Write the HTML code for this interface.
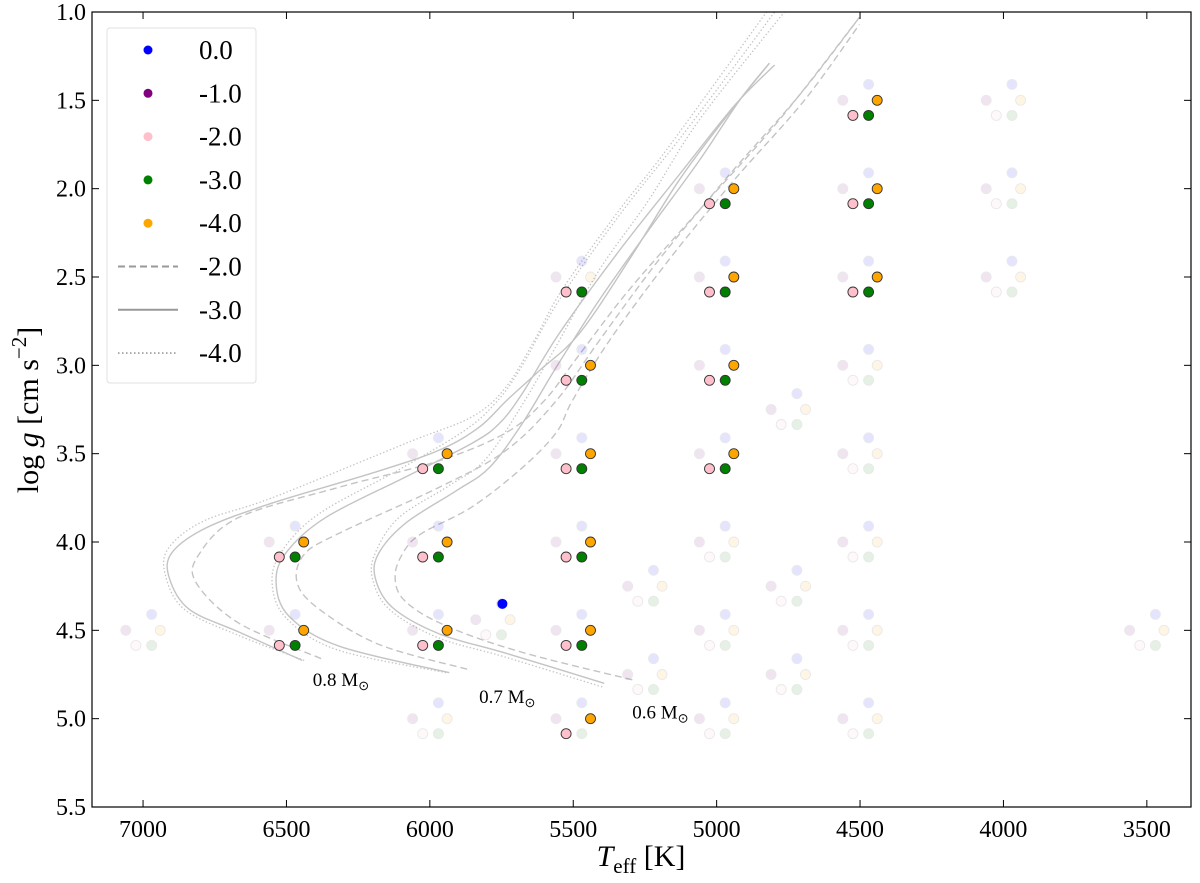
<!DOCTYPE html>
<html><head><meta charset="utf-8"><style>
html,body{margin:0;padding:0;background:#fff;}
svg{display:block;font-family:"Liberation Serif",serif;}
</style></head><body>
<svg id="chart" width="1200" height="883" viewBox="0 0 1200 883">
<g id="tracks"></g>
<g id="points"></g>
<g id="axes"></g>
<g id="legend"></g>
</svg>
<script>
const xTicks=[7000,6500,6000,5500,5000,4500,4000,3500];
const yTicks=[1.0,1.5,2.0,2.5,3.0,3.5,4.0,4.5,5.0,5.5];
const gridTeff=[7000,6500,6500,6000,6000,6000,6000,5780,5500,5500,5500,5500,5500,5500,5250,5250,5000,5000,5000,5000,5000,5000,5000,4750,4750,4750,4500,4500,4500,4500,4500,4500,4500,4500,4000,4000,4000,3500];
const gridLogg=[4.5,4.0,4.5,3.5,4.0,4.5,5.0,4.44,2.5,3.0,3.5,4.0,4.5,5.0,4.25,4.75,2.0,2.5,3.0,3.5,4.0,4.5,5.0,3.25,4.25,4.75,1.5,2.0,2.5,3.0,3.5,4.0,4.5,5.0,1.5,2.0,2.5,4.5];
const gridOpaque=["","pgo","pgo","pgo","pgo","pgo","","","pg","pgo","pgo","pgo","pgo","po","","","pgo","pgo","pgo","pgo","","","","","","","pgo","pgo","pgo","","","","","","","","",""];
const starTeff=[5747];
const starLogg=[4.35];
const t08s=[[6445,4.67],[6665,4.51],[6840,4.38],[6909,4.20],[6899,4.06],[6780,3.92],[6550,3.78],[6201,3.61],[5967,3.48],[5828,3.35],[5733,3.20],[5618,3.03],[5479,2.82],[5304,2.40],[5130,1.95],[4955,1.57],[4816,1.29]];
const t08d=[[6438,4.67],[6665,4.53],[6857,4.38],[6923,4.18],[6909,4.03],[6787,3.88],[6550,3.75],[6082,3.44],[5852,3.29],[5733,3.12],[5636,2.86],[5538,2.57],[5339,2.12],[5175,1.78],[4826,1.0]];
const t08a=[[6379,4.66],[6665,4.46],[6815,4.23],[6805,4.07],[6665,3.86],[6316,3.69],[5967,3.54],[5733,3.38],[5601,3.20],[5479,2.94],[5304,2.57],[5060,2.12],[4781,1.61],[4502,1.03]];
const t07s=[[5932,4.74],[6316,4.59],[6491,4.42],[6536,4.23],[6501,4.06],[6362,3.86],[6082,3.63],[5852,3.44],[5758,3.33],[5678,3.16],[5549,2.82],[5339,2.35],[5130,1.92],[4938,1.53],[4798,1.30]];
const t07d=[[5943,4.74],[6323,4.61],[6501,4.43],[6550,4.23],[6515,4.05],[6386,3.84],[6107,3.59],[5880,3.37],[5775,3.22],[5688,3.03],[5549,2.63],[5339,2.15],[5130,1.72],[4921,1.27],[4798,1.0]];
const t07a=[[5870,4.72],[6177,4.58],[6386,4.38],[6463,4.23],[6438,4.07],[6316,3.95],[5967,3.69],[5733,3.48],[5559,3.20],[5409,2.86],[5200,2.40],[4955,1.92],[4711,1.47],[4502,1.03]];
const t06s=[[5392,4.80],[5734,4.63],[5967,4.52],[6131,4.37],[6191,4.20],[6177,4.06],[6082,3.89],[5908,3.71],[5793,3.58],[5678,3.33],[5559,3.01],[5409,2.63],[5235,2.23],[5060,1.84],[4920,1.50],[4816,1.29]];
const t06d=[[5399,4.82],[5740,4.65],[5974,4.54],[6142,4.38],[6201,4.20],[6187,4.05],[6107,3.86],[5932,3.68],[5810,3.54],[5688,3.25],[5566,2.91],[5409,2.46],[5235,2.06],[5060,1.61],[4764,1.0]];
const t06a=[[5294,4.78],[5688,4.62],[5950,4.47],[6089,4.33],[6121,4.19],[6089,4.05],[6027,3.95],[5852,3.80],[5678,3.58],[5559,3.38],[5503,3.20],[5374,2.86],[5165,2.40],[4938,1.95],[4694,1.50],[4502,1.07]];
const massLabels=["0.8 M","0.7 M","0.6 M"];
const massLabelTeff=[6310,5730,5196];
const massLabelLogg=[4.815,4.91,5.0];
const legendLabels=["0.0","-1.0","-2.0","-3.0","-4.0","-2.0","-3.0","-4.0"];

const NS="http://www.w3.org/2000/svg";
const L=92,R=1191,T=12,B=807;
const X0=7178,X1=3346,Y0=1.0,Y1=5.5;
function sx(t){return L+(X0-t)/(X0-X1)*(R-L);}
function sy(g){return T+(g-Y0)/(Y1-Y0)*(B-T);}
function mk(tag,attrs,parent){const e=document.createElementNS(NS,tag);for(const k in attrs)e.setAttribute(k,attrs[k]);parent.appendChild(e);return e;}

const tracksG=document.getElementById('tracks');
const trackSets=[[t08a,'dash'],[t08s,'solid'],[t08d,'dot'],[t07a,'dash'],[t07s,'solid'],[t07d,'dot'],[t06a,'dash'],[t06s,'solid'],[t06d,'dot']];
function smoothPath(pts){
  const p=pts.map(q=>[sx(q[0]),sy(q[1])]);
  let d='M'+p[0][0].toFixed(1)+','+p[0][1].toFixed(1);
  for(let i=0;i<p.length-1;i++){
    const p0=p[Math.max(0,i-1)],p1=p[i],p2=p[i+1],p3=p[Math.min(p.length-1,i+2)];
    const c1=[p1[0]+(p2[0]-p0[0])/6,p1[1]+(p2[1]-p0[1])/6];
    const c2=[p2[0]-(p3[0]-p1[0])/6,p2[1]-(p3[1]-p1[1])/6];
    d+=' C'+c1[0].toFixed(1)+','+c1[1].toFixed(1)+' '+c2[0].toFixed(1)+','+c2[1].toFixed(1)+' '+p2[0].toFixed(1)+','+p2[1].toFixed(1);
  }
  return d;
}
trackSets.forEach((ts,i)=>{
  const el=mk('path',{d:smoothPath(ts[0]),fill:'none',stroke:'#c4c4c4','stroke-width':ts[1]==='dot'?1.3:1.4},tracksG);
  if(ts[1]==='dash')el.setAttribute('stroke-dasharray','7,4');
  if(ts[1]==='dot')el.setAttribute('stroke-dasharray','1.4,2.2');
  
  
});
massLabels.forEach((m,i)=>{
  const t=mk('text',{x:sx(massLabelTeff[i]),y:sy(massLabelLogg[i]),'font-size':19,'text-anchor':'middle',fill:'#000'},tracksG);
  t.textContent=m;
  const ts=mk('tspan',{'font-size':13,dy:4},t);ts.textContent='⊙';
  
  
});

const ptsG=document.getElementById('points');
const species=[['b','blue',-30,-0.09],['u','purple',60,0],['p','pink',25,0.085],['g','green',-30,0.085],['o','orange',-60,0]];
function dot(t,g,col,alpha,parent){
  const c=mk('circle',{cx:sx(t).toFixed(1),cy:sy(g).toFixed(1),r:5,fill:col,stroke:'#333','stroke-width':0.9,opacity:alpha},parent);
  
  
}
[false,true].forEach(pass=>{
  gridTeff.forEach((t,i)=>{
    species.forEach(s=>{
      const op=gridOpaque[i].indexOf(s[0])>=0;
      if(op!==pass)return;
      dot(t+s[2],gridLogg[i]+s[3],s[1],op?1:0.1,ptsG);
    });
  });
});
starTeff.forEach((t,i)=>{
  const c=mk('circle',{cx:sx(t),cy:sy(starLogg[i]),r:5,fill:'blue'},ptsG);
  
  
});

const ax=document.getElementById('axes');
const fr=mk('rect',{x:L,y:T,width:R-L,height:B-T,fill:'none',stroke:'#000','stroke-width':1.2},ax);


xTicks.forEach(v=>{
  const x=sx(v);
  mk('line',{x1:x,x2:x,y1:B,y2:B-7,stroke:'#000','stroke-width':1},ax);
  mk('line',{x1:x,x2:x,y1:T,y2:T+7,stroke:'#000','stroke-width':1},ax);
  const t=mk('text',{x:x,y:B+30,'font-size':24,'text-anchor':'middle'},ax);t.textContent=v;
  
  
});
yTicks.forEach(v=>{
  const y=sy(v);
  mk('line',{x1:L,x2:L+7,y1:y,y2:y,stroke:'#000','stroke-width':1},ax);
  mk('line',{x1:R,x2:R-7,y1:y,y2:y,stroke:'#000','stroke-width':1},ax);
  const t=mk('text',{x:86,y:y+8,'font-size':24,'text-anchor':'end'},ax);t.textContent=v.toFixed(1);
  
  
});
const xt=mk('text',{x:641,y:866,'font-size':30,'text-anchor':'middle'},ax);
xt.innerHTML='<tspan font-style="italic">T</tspan><tspan font-size="21" dy="7">eff</tspan><tspan dy="-7"> [K]</tspan>';


const yt=mk('text',{x:0,y:0,'font-size':30,'text-anchor':'middle',transform:'translate(38,410) rotate(-90)'},ax);
yt.innerHTML='log <tspan font-style="italic">g</tspan> [cm s<tspan font-size="21" dy="-12">−2</tspan><tspan dy="12">]</tspan>';



const lg=document.getElementById('legend');
const lb=mk('rect',{x:107,y:28,width:149,height:355,rx:3,fill:'#fff',stroke:'#ddd','stroke-width':1,opacity:0.9},lg);


const legCols=['blue','purple','pink','green','orange'];
const legStyles=['7,4','','1.5,2.5'];
legendLabels.forEach((s,i)=>{
  const y=50+i*43.3;
  const g=mk('g',{},lg);
  
  
  if(i<5){mk('circle',{cx:148,cy:y,r:4.5,fill:legCols[i]},g);}
  else{const l=mk('line',{x1:118,x2:178,y1:y,y2:y,stroke:'#999','stroke-width':i===7?1.6:2},g);if(legStyles[i-5])l.setAttribute('stroke-dasharray',legStyles[i-5]);}
  const t=mk('text',{x:199,y:y+9,'font-size':27},g);t.textContent=s;
});
</script>
</body></html>
